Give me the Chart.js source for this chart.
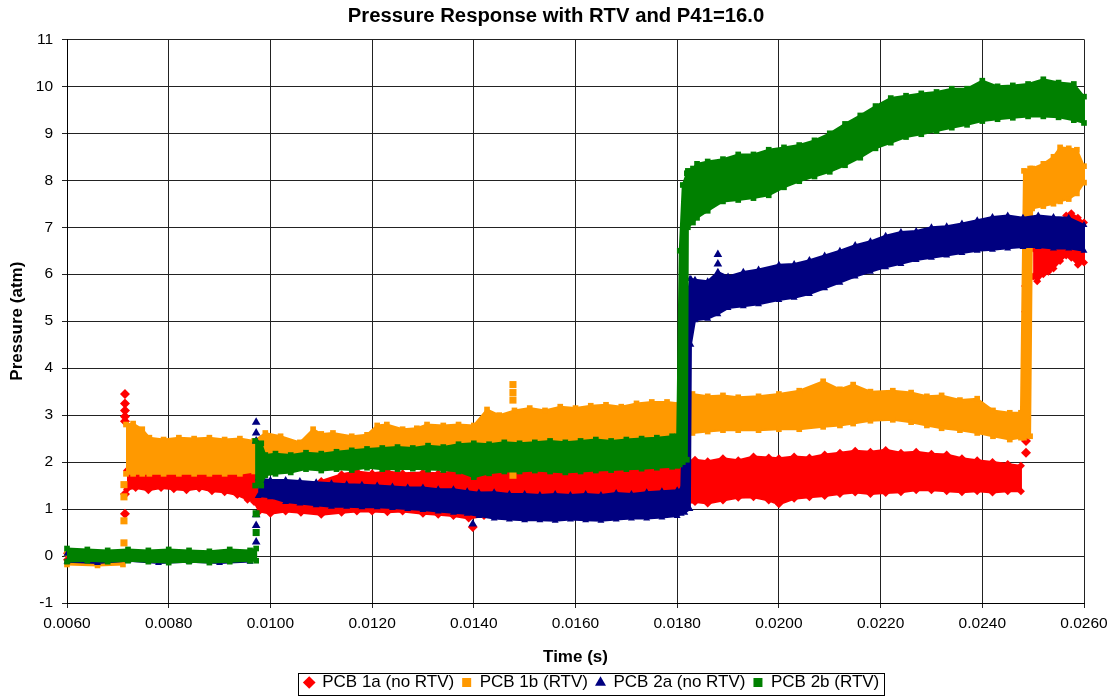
<!DOCTYPE html>
<html>
<head>
<meta charset="utf-8">
<title>Pressure Response with RTV and P41=16.0</title>
<script src="https://cdn.jsdelivr.net/npm/chart.js@4.4.1/dist/chart.umd.min.js"></script>
<style>
  html, body { margin: 0; padding: 0; background: #fff; }
  #wrap { width: 1115px; height: 696px; position: relative; }
</style>
</head>
<body>
<div id="wrap"><canvas id="chart"></canvas></div>
<script>
// Bandas: tiempo (s), borde superior e inferior (atm).
// null separa tramos que no están unidos en el original.
const pcb1aTime = [0.0060, 0.0066, 0.0071, null,
  0.00718, 0.00735, 0.00760, 0.00785, 0.00810, 0.00835, 0.00860, 0.00885, 0.00910, 0.00935, 0.00955, 0.00968,
  0.00978, 0.0100, 0.0103, 0.0106, 0.0110, 0.0114, 0.0117, 0.0120, 0.0123, 0.0126, 0.0130, 0.0133, 0.0136,
  0.0139, 0.0142, 0.0146, 0.0150, 0.0154, 0.0158, 0.0162, 0.0166, 0.0170, 0.0174, 0.0178, 0.01805,
  0.01835, 0.0186, 0.0189, 0.0192, 0.0195, 0.0198, 0.0200, 0.0203, 0.0206, 0.0209, 0.0212, 0.0215,
  0.0218, 0.0221, 0.0224, 0.0227, 0.0230, 0.0233, 0.0236, 0.0239, 0.0242, 0.0245, 0.02476, null,
  0.02500, 0.02508, 0.02520, 0.02530, 0.02540, 0.02553, 0.02565, 0.02575, 0.02588, 0.0260];
const pcb1aHigh = [0.06, 0.06, 0.06, null,
  1.82, 1.90, 1.85, 1.88, 1.84, 1.86, 1.82, 1.84, 1.80, 1.78, 1.80, 1.72,
  1.30, 1.32, 1.36, 1.42, 1.60, 1.74, 1.80, 1.76, 1.80, 1.76, 1.78, 1.76, 1.80,
  1.76, 1.78, 1.82, 1.84, 1.82, 1.86, 1.84, 1.88, 1.86, 1.90, 1.94, 1.98,
  2.05, 2.02, 2.08, 2.04, 2.12, 2.10, 2.08, 2.12, 2.10, 2.16, 2.20, 2.24,
  2.22, 2.26, 2.20, 2.22, 2.18, 2.16, 2.08, 2.04, 2.00, 1.96, 1.92, null,
  6.55, 6.60, 6.62, 6.65, 6.70, 6.85, 7.25, 7.30, 7.20, 7.10];
const pcb1aLow = [-0.08, -0.08, -0.08, null,
  1.42, 1.45, 1.40, 1.45, 1.42, 1.40, 1.44, 1.38, 1.36, 1.30, 1.20, 1.15,
  0.95, 0.90, 0.95, 0.92, 0.88, 0.92, 0.95, 0.95, 0.93, 0.95, 0.90, 0.88, 0.85,
  0.80, 0.85, 0.88, 0.95, 1.00, 1.00, 1.00, 1.00, 1.00, 1.02, 1.05, 1.10,
  1.15, 1.12, 1.18, 1.24, 1.25, 1.18, 1.10, 1.22, 1.25, 1.28, 1.32, 1.35,
  1.32, 1.34, 1.36, 1.40, 1.40, 1.38, 1.36, 1.38, 1.35, 1.38, 1.38, null,
  5.95, 5.85, 6.00, 6.05, 6.12, 6.28, 6.40, 6.35, 6.20, 6.25];
const pcb1aSpikeTime = [0.00714, 0.00714, 0.00714, 0.00714, 0.00714, 0.00714, 0.00714, 0.01398, 0.02486, 0.02486, 0.02486, 0.02486];
const pcb1aSpikeValue = [3.45, 3.25, 3.10, 2.97, 2.87, 1.32, 0.90, 0.62, 2.20, 2.45, 5.20, 5.75];

const pcb1bTime = [0.0060, 0.0066, 0.0071, null,
  0.00716, 0.00730, 0.00748, 0.00762, 0.00790, 0.00820, 0.00850, 0.00880, 0.00910, 0.00940,
  0.00968, 0.00990, 0.0102, 0.01058, 0.01084, 0.0110, 0.01123, 0.0116, 0.0119, 0.0121,
  0.01229, 0.0126, 0.01288, 0.01308, 0.0134, 0.0137, 0.0140, 0.01426, 0.0145, 0.0148,
  0.0151, 0.0154, 0.0157, 0.0160, 0.0163, 0.0166, 0.0169, 0.0172, 0.0175, 0.0178,
  0.01805, 0.0183, 0.0186, 0.0189, 0.0192, 0.0196, 0.0200, 0.0204, 0.02087, 0.0212,
  0.02146, 0.0218, 0.02224, 0.0226, 0.02291, 0.0232, 0.02356, 0.0239, 0.02421, 0.02454,
  0.02476, 0.02482, 0.02494, 0.02498, 0.0252, 0.0254, 0.02553, 0.0257, 0.02586, 0.0260];
const pcb1bHigh = [0.05, 0.05, 0.05, null,
  2.80, 2.82, 2.70, 2.52, 2.48, 2.52, 2.50, 2.52, 2.48, 2.50,
  2.45, 2.62, 2.55, 2.42, 2.70, 2.60, 2.62, 2.55, 2.58, 2.78,
  2.80, 2.70, 2.72, 2.80, 2.78, 2.80, 2.78, 3.12, 3.00, 3.10,
  3.15, 3.10, 3.18, 3.15, 3.20, 3.22, 3.18, 3.25, 3.28, 3.28,
  3.25, 3.45, 3.40, 3.42, 3.38, 3.40, 3.45, 3.52, 3.72, 3.55,
  3.65, 3.50, 3.52, 3.48, 3.40, 3.42, 3.32, 3.35, 3.10, 3.05,
  3.05, 8.20, 8.25, 8.25, 8.35, 8.50, 8.70, 8.68, 8.65, 8.30];
const pcb1bLow = [-0.18, -0.20, -0.18, null,
  1.75, 1.75, 1.75, 1.75, 1.75, 1.75, 1.75, 1.75, 1.75, 1.75,
  1.80, 2.05, 2.05, 2.08, 2.10, 2.10, 2.10, 2.12, 2.12, 2.15,
  2.15, 2.18, 2.18, 2.20, 2.20, 2.22, 2.22, 2.25, 2.25, 2.28,
  2.30, 2.30, 2.32, 2.35, 2.38, 2.38, 2.40, 2.42, 2.45, 2.48,
  2.62, 2.62, 2.65, 2.68, 2.68, 2.68, 2.70, 2.70, 2.75, 2.78,
  2.82, 2.88, 2.90, 2.85, 2.78, 2.72, 2.68, 2.62, 2.55, 2.48,
  2.52, 2.52, 2.55, 7.40, 7.45, 7.50, 7.55, 7.60, 7.72, 7.95];
const pcb1bSpikeTime = [0.00712, 0.00712, 0.00712, 0.00712, 0.01477, 0.01477, 0.01477, 0.01477];
const pcb1bSpikeValue = [0.28, 0.75, 1.26, 1.52, 3.65, 3.48, 3.32, 1.72];

const pcb2aTime = [0.0060, 0.0066, 0.0072, 0.0078, 0.0084, 0.0090, 0.0096, null,
  0.00976, 0.0100, 0.0103, 0.01058, 0.0109, 0.0112, 0.0115, 0.0118, 0.0121, 0.0124,
  0.0127, 0.0130, 0.0133, 0.0136, 0.01387, 0.0141, 0.0144, 0.0147, 0.0150, 0.0153,
  0.0156, 0.0159, 0.0162, 0.0165, 0.0168, 0.0171, 0.0174, 0.0177, 0.0180, 0.01808,
  0.01815, 0.01825, 0.01827, 0.01835, 0.0186, 0.0188, 0.0190, 0.0193, 0.0196, 0.0200,
  0.0203, 0.0206, 0.0209, 0.0212, 0.0215, 0.0218, 0.0221, 0.0224, 0.0227, 0.0230,
  0.0233, 0.0236, 0.0239, 0.0242, 0.0245, 0.0248, 0.0251, 0.0254, 0.0257, 0.0260];
const pcb2aHigh = [0.05, 0.05, 0.05, 0.05, 0.05, 0.05, 0.05, null,
  1.65, 1.62, 1.62, 1.60, 1.57, 1.55, 1.53, 1.52, 1.50, 1.48,
  1.46, 1.46, 1.42, 1.42, 1.38, 1.35, 1.36, 1.32, 1.32, 1.30,
  1.32, 1.30, 1.32, 1.30, 1.34, 1.32, 1.36, 1.38, 1.40, 1.42,
  5.00, 5.90, 5.90, 5.88, 5.85, 6.05, 5.95, 6.05, 6.10, 6.20,
  6.22, 6.30, 6.40, 6.50, 6.62, 6.70, 6.82, 6.90, 6.92, 7.00,
  7.02, 7.08, 7.15, 7.22, 7.25, 7.20, 7.25, 7.22, 7.20, 7.05];
const pcb2aLow = [-0.12, -0.15, -0.10, -0.15, -0.12, -0.15, -0.12, null,
  1.28, 1.25, 1.15, 1.12, 1.08, 1.05, 1.05, 1.04, 1.04, 1.02,
  1.00, 0.98, 0.95, 0.92, 0.90, 0.85, 0.80, 0.78, 0.76, 0.76,
  0.75, 0.78, 0.76, 0.75, 0.78, 0.80, 0.80, 0.82, 0.85, 0.90,
  0.92, 1.00, 4.50, 5.02, 5.05, 5.15, 5.28, 5.32, 5.36, 5.45,
  5.50, 5.58, 5.70, 5.82, 5.95, 6.05, 6.15, 6.22, 6.30, 6.35,
  6.40, 6.45, 6.50, 6.52, 6.55, 6.58, 6.58, 6.55, 6.55, 6.50];
const pcb2aSpikeTime = [0.00972, 0.00972, 0.00972, 0.00972, 0.00972, 0.00972, 0.01398, 0.01880, 0.01880];
const pcb2aSpikeValue = [2.85, 2.62, 2.45, 0.88, 0.65, 0.30, 0.68, 6.42, 6.22];

const pcb2bTime = [0.0060, 0.0064, 0.0068, 0.0072, 0.0076, 0.0080, 0.0084, 0.0088, 0.0092, 0.0096, 0.00972, null,
  0.00970, 0.00982, 0.00990, 0.0101, 0.0104, 0.0107, 0.0110, 0.0113, 0.0116, 0.0119,
  0.0122, 0.0125, 0.0128, 0.0131, 0.0134, 0.0137, 0.0140, 0.0143, 0.0146, 0.0149,
  0.0152, 0.0155, 0.0158, 0.0161, 0.0164, 0.0167, 0.0170, 0.0173, 0.0176, 0.0179,
  0.01800, 0.01805, 0.01811, 0.01819, 0.01821, 0.01831, 0.01839, 0.0186, 0.0189, 0.0192,
  0.0195, 0.0198, 0.0201, 0.0204, 0.0207, 0.0210, 0.0213, 0.0216, 0.0219, 0.0222,
  0.0225, 0.0228, 0.0231, 0.0234, 0.0237, 0.0240, 0.0243, 0.0246, 0.0249, 0.0252,
  0.0255, 0.0258, 0.0260];
const pcb2bHigh = [0.16, 0.14, 0.12, 0.14, 0.12, 0.14, 0.12, 0.10, 0.14, 0.12, 0.16, null,
  2.45, 2.40, 2.15, 2.18, 2.15, 2.20, 2.18, 2.22, 2.25, 2.28,
  2.30, 2.32, 2.30, 2.35, 2.32, 2.38, 2.40, 2.38, 2.42, 2.40,
  2.42, 2.45, 2.42, 2.45, 2.48, 2.45, 2.48, 2.50, 2.52, 2.55,
  2.55, 6.50, 7.90, 8.15, 8.20, 8.25, 8.35, 8.40, 8.45, 8.55,
  8.55, 8.65, 8.70, 8.75, 8.85, 9.00, 9.20, 9.38, 9.58, 9.75,
  9.80, 9.85, 9.88, 9.95, 9.95, 10.12, 10.00, 10.02, 10.05, 10.15,
  10.08, 10.05, 9.78];
const pcb2bLow = [-0.12, -0.10, -0.12, -0.10, -0.12, -0.14, -0.12, -0.14, -0.12, -0.10, -0.10, null,
  1.50, 1.50, 1.72, 1.75, 1.78, 1.85, 1.82, 1.85, 1.83, 1.88,
  1.85, 1.85, 1.86, 1.84, 1.83, 1.80, 1.68, 1.76, 1.80, 1.80,
  1.82, 1.80, 1.78, 1.80, 1.82, 1.83, 1.85, 1.86, 1.88, 1.90,
  1.92, 1.95, 2.00, 2.05, 7.00, 7.10, 7.20, 7.35, 7.55, 7.58,
  7.62, 7.68, 7.85, 7.98, 8.08, 8.18, 8.32, 8.48, 8.68, 8.80,
  8.92, 8.98, 9.05, 9.12, 9.18, 9.26, 9.30, 9.33, 9.36, 9.36,
  9.34, 9.28, 9.22];
const pcb2bSpikeTime = [0.00972, 0.00972];
const pcb2bSpikeValue = [0.90, 0.50];

const seriesNames = ["PCB 1a (no RTV)", "PCB 1b (RTV)", "PCB 2a (no RTV)", "PCB 2b (RTV)"];

document.addEventListener("DOMContentLoaded", () => {
  initPressureChart();
});

// Convierte borde superior + inferior en un polígono cerrado por tramo
function buildBands(time, high, low) {
  const bands = [];
  let idx = [];
  time.forEach((t, i) => {
    if (t === null) {
      if (idx.length) bands.push(idx);
      idx = [];
      return;
    }
    idx.push(i);
  });
  if (idx.length) bands.push(idx);

  return bands.map((ids) => {
    const upper = ids.map((i) => ({ x: time[i], y: high[i] }));
    const lower = ids.slice().reverse().map((i) => ({ x: time[i], y: low[i] }));
    return upper.concat(lower);
  });
}

function initPressureChart() {
  Chart.defaults.font.family = "'Liberation Sans', Arial, sans-serif";
  Chart.defaults.color = "#000";

  const series = [
    { name: seriesNames[0], color: "#ff0000", style: "rectRot", order: 4,
      time: pcb1aTime, high: pcb1aHigh, low: pcb1aLow, spikeT: pcb1aSpikeTime, spikeV: pcb1aSpikeValue },
    { name: seriesNames[1], color: "#ff9900", style: "rect", order: 3,
      time: pcb1bTime, high: pcb1bHigh, low: pcb1bLow, spikeT: pcb1bSpikeTime, spikeV: pcb1bSpikeValue },
    { name: seriesNames[2], color: "#000080", style: "triangle", order: 2,
      time: pcb2aTime, high: pcb2aHigh, low: pcb2aLow, spikeT: pcb2aSpikeTime, spikeV: pcb2aSpikeValue },
    { name: seriesNames[3], color: "#008000", style: "rect", order: 1,
      time: pcb2bTime, high: pcb2bHigh, low: pcb2bLow, spikeT: pcb2bSpikeTime, spikeV: pcb2bSpikeValue },
  ];

  const datasets = [];
  series.forEach((s) => {
    buildBands(s.time, s.high, s.low).forEach((poly) => {
      datasets.push({
        label: s.name,
        data: poly,
        order: s.order,
        borderColor: s.color,
        backgroundColor: s.color,
        borderWidth: 2,
        fill: "shape",
        tension: 0,
        pointRadius: 4,
        pointStyle: s.style,
        pointBackgroundColor: s.color,
        pointBorderWidth: 0,
        clip: false,
      });
    });
    datasets.push({
      label: s.name,
      data: s.spikeT.map((t, i) => ({ x: t, y: s.spikeV[i] })),
      order: s.order,
      showLine: false,
      pointRadius: 5,
      pointStyle: s.style,
      backgroundColor: s.color,
      borderColor: s.color,
      pointBorderWidth: 0,
      clip: false,
    });
  });

  // Excel centra título y leyenda de otra forma, y pone un marco a la leyenda
  const legendFrame = {
    id: "legendFrame",
    afterLayout(chart) {
      chart.legend.left += 50;
      chart.legend.right += 50;
      chart.titleBlock.left += 14;
      chart.titleBlock.right += 14;
    },
    afterDraw(chart) {
      const boxes = chart.legend.legendHitBoxes;
      if (!boxes || !boxes.length) return;
      const left = Math.min(...boxes.map((b) => b.left)) - 7;
      const right = Math.max(...boxes.map((b) => b.left + b.width)) + 4;
      const mid = boxes[0].top + boxes[0].height / 2;
      const ctx = chart.ctx;
      ctx.save();
      ctx.strokeStyle = "#000";
      ctx.lineWidth = 1;
      ctx.strokeRect(Math.round(left) + 0.5, Math.round(mid - 10) + 0.5, Math.round(right - left), 22);
      ctx.restore();
    },
  };

  const ctx = document.getElementById("chart").getContext("2d");
  new Chart(ctx, {
    type: "line",
    data: { datasets },
    plugins: [legendFrame],
    options: {
      responsive: true,
      maintainAspectRatio: false,
      animation: false,
      events: [],
      layout: { padding: { left: 0, right: 31, top: 0, bottom: -5 } },
      plugins: {
        title: {
          display: true,
          text: "Pressure Response with RTV and P41=16.0",
          font: { size: 20.3, weight: "bold" },
          padding: { top: 4, bottom: 11 },
        },
        legend: {
          position: "bottom",
          onClick: null,
          labels: {
            usePointStyle: true,
            boxWidth: 9,
            boxHeight: 9,
            padding: 8,
            font: { size: 17 },
            generateLabels: () =>
              series.map((s, i) => ({
                text: s.name,
                fillStyle: s.color,
                strokeStyle: s.color,
                lineWidth: 0,
                pointStyle: s.style,
                hidden: false,
                datasetIndex: i,
              })),
          },
        },
        tooltip: { enabled: false },
      },
      scales: {
        x: {
          type: "linear",
          min: 0.006,
          max: 0.026,
          afterFit: (scale) => { scale.height = 63; },
          ticks: {
            stepSize: 0.002,
            font: { size: 15.5 },
            padding: 6,
            maxRotation: 0,
            callback: (v) => v.toFixed(4),
          },
          grid: { color: "#222", tickLength: 5 },
          border: { color: "#000" },
          title: {
            display: true,
            text: "Time (s)",
            font: { size: 17, weight: "bold", lineHeight: 1 },
            padding: { top: 0, bottom: 0.5 },
          },
        },
        y: {
          min: -1,
          max: 11,
          afterFit: (scale) => { scale.width = 67; },
          ticks: { stepSize: 1, font: { size: 15.5 }, padding: 9 },
          grid: { color: "#222", tickLength: 5 },
          border: { color: "#000" },
          title: {
            display: true,
            text: "Pressure (atm)",
            font: { size: 17, weight: "bold" },
            padding: { top: 7, bottom: 0 },
          },
        },
      },
    },
  });
}
</script>
</body>
</html>
